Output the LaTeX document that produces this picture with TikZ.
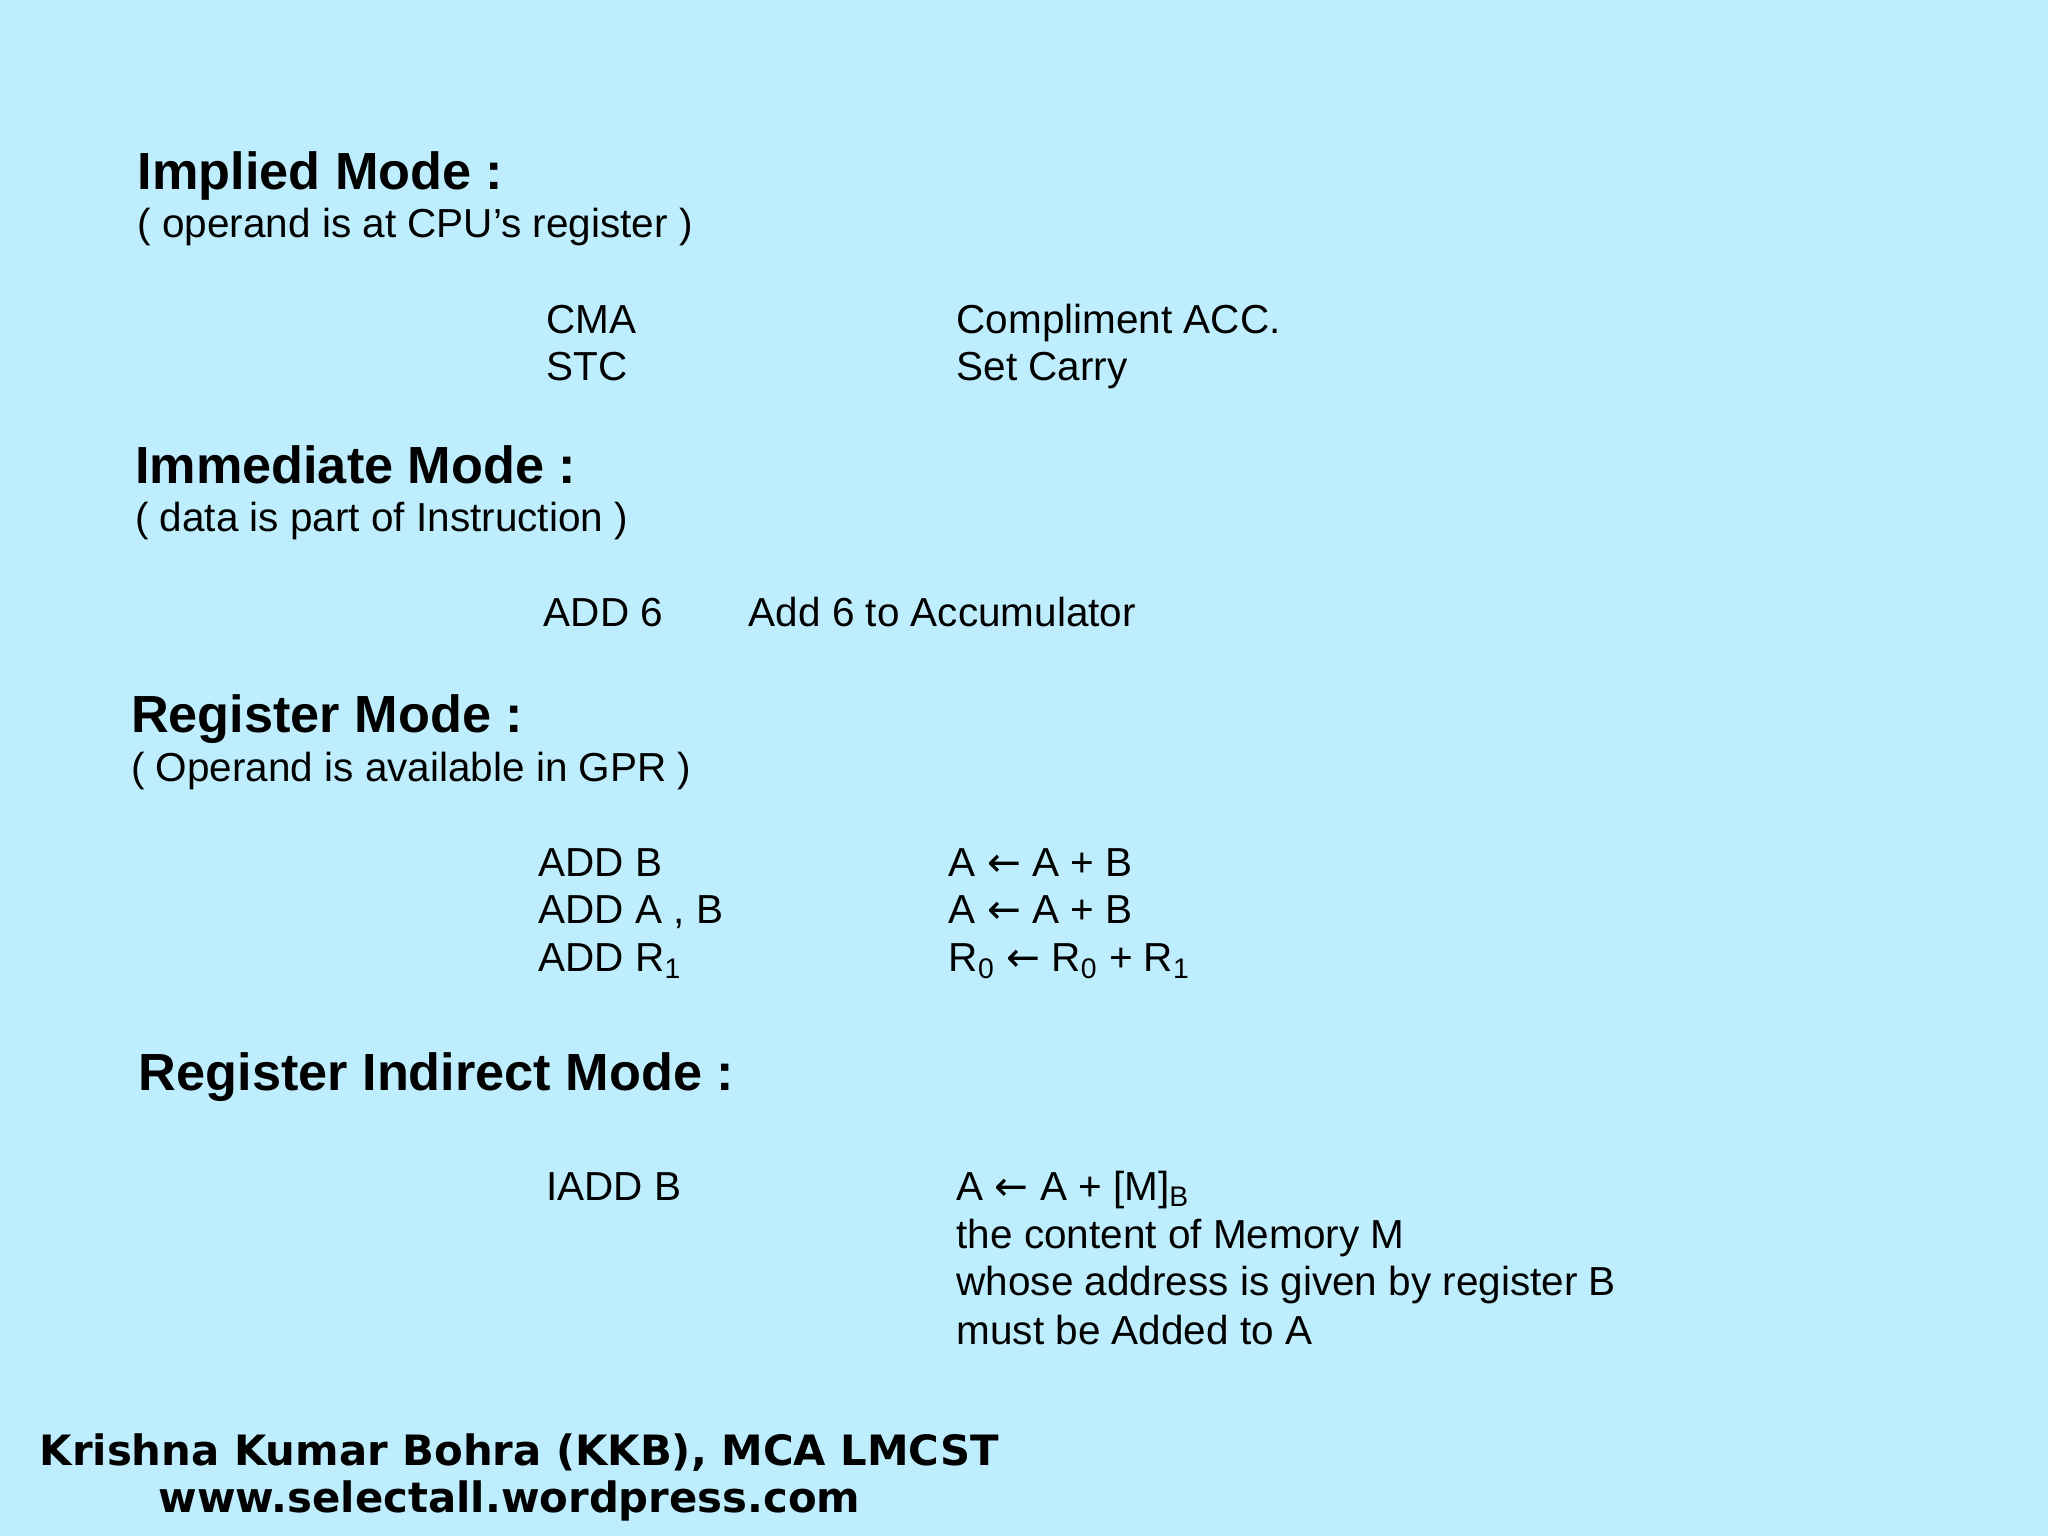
\documentclass[tikz,border=0pt]{standalone}
\usepackage{fontspec}
\setmainfont{Liberation Sans}
\newfontfamily\footfont{DejaVu Sans}
\newfontfamily\arrfont{DejaVu Sans}
\newcommand{\la}{{\arrfont ←}}
\begin{document}
\begin{tikzpicture}[x=0.5pt,y=-0.5pt,
  head/.style={anchor=base west,inner sep=0pt,font=\fontsize{20}{24}\selectfont\bfseries},
  txt/.style={anchor=base west,inner sep=0pt,font=\fontsize{15.5}{18}\selectfont},
  foot/.style={anchor=base west,inner sep=0pt,font=\fontsize{16}{19}\selectfont\footfont\bfseries}]
\fill[color={rgb,255:red,190;green,238;blue,253}] (0,0) rectangle (1568,1176);
\useasboundingbox (0,0) rectangle (1568,1176);
\node[head] (h1) at (105,145) {Implied Mode :};
\node[txt] (s1) at (105,182) {( operand is at CPU’s register )};
\node[txt] (a1) at (418,255) {CMA};
\node[txt] (a2) at (418,291) {STC};
\node[txt] (b1) at (732,255) {Compliment ACC.};
\node[txt] (b2) at (732,291) {Set Carry};
\node[head] (h2) at (103,370) {Immediate Mode :};
\node[txt] (s2) at (103,407) {( data is part of Instruction )};
\node[txt] (c1) at (416,480) {ADD 6};
\node[txt] (d1) at (573,480) {Add 6 to Accumulator};
\node[head] (h3) at (100,561) {Register Mode :};
\node[txt] (s3) at (100,598) {( Operand is available in GPR )};
\node[txt] (e1) at (412,671) {ADD B};
\node[txt] (e2) at (412,707) {ADD A , B};
\node[txt] (e3) at (412,744) {ADD R\textsubscript{1}};
\node[txt] (f1) at (726,671) {A \la\ A + B};
\node[txt] (f2) at (726,707) {A \la\ A + B};
\node[txt] (f3) at (726,744) {R\textsubscript{0} \la\ R\textsubscript{0} + R\textsubscript{1}};
\node[head] (h4) at (106,835) {Register Indirect Mode :};
\node[txt] (g1) at (418,919) {IADD B};
\node[txt] (k1) at (732,919) {A \la\ A + [M]\textsubscript{B}};
\node[txt] (k2) at (732,956) {the content of Memory M};
\node[txt] (k3) at (732,992) {whose address is given by register B};
\node[txt] (k4) at (732,1029) {must be Added to A};
\node[foot] (n1) at (30,1122) {Krishna Kumar Bohra (KKB), MCA LMCST};
\node[foot] (n2) at (121,1158) {www.selectall.wordpress.com};
\end{tikzpicture}
\end{document}
